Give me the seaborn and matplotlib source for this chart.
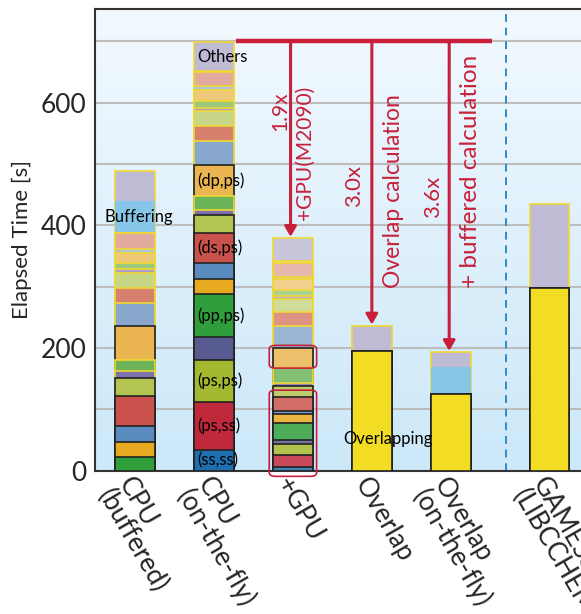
import numpy as np
import pandas as pd
import matplotlib
matplotlib.use("Agg")
import matplotlib.pyplot as plt
from matplotlib.colors import LinearSegmentedColormap, to_rgb
from matplotlib.patches import FancyBboxPatch
import seaborn as sns

sns.set_style("white")
plt.rcParams["font.family"] = ["Lato", "DejaVu Sans"]

# ---- data -------------------------------------------------------------
runs = ["CPU\n(buffered)", "CPU\n(on-the-fly)", "+GPU", "Overlap",
        "Overlap\n(on-the-fly)", "GAMESS\n(LIBCCHEM)"]

# elapsed time of each component [s], one value per run (bottom to top)
overlapping = [0, 0, 0, 195, 125, 297]
ss_ss = [0, 33, 6, 0, 0, 0]
ps_ss = [0, 79, 19, 0, 0, 0]
ps_ps = [0, 69, 19, 0, 0, 0]
pp_ss = [0, 37, 6, 0, 0, 0]
pp_ps = [22, 70, 28, 0, 0, 0]
pp_pp = [25, 24, 14, 0, 0, 0]
ds_ss = [25, 26, 5, 0, 0, 0]
ds_ps = [49, 49, 23, 0, 0, 0]
ds_pp = [30, 29, 17, 0, 0, 0]
ds_ds = [11, 9, 5, 0, 0, 0]
dp_ss = [19, 22, 25, 0, 0, 0]
dp_ps = [54, 51, 32, 0, 0, 0]
dp_pp = [38, 39, 36, 0, 0, 0]
dp_ds = [24, 24, 23, 0, 0, 0]
dp_dp = [25, 25, 22, 0, 0, 0]
dd_ss = [6, 5, 4, 0, 0, 0]
dd_ps = [11, 12, 10, 0, 0, 0]
dd_pp = [16, 18, 18, 0, 0, 0]
dd_ds = [7, 6, 4, 0, 0, 0]
dd_dd = [25, 22, 22, 0, 0, 0]
setup = [0, 3, 4, 0, 0, 0]
buffering = [52, 0, 0, 0, 44, 0]
others = [49, 46, 37, 41, 24, 138]

speedups = ["1.9x", "3.0x", "3.6x"]

# ---- styling ----------------------------------------------------------
BLACK_EDGE = "#222222"
YELLOW_EDGE = "#f0d832"
RED = "#c8203a"

# (values, face colour, edge colour, label drawn inside the bar)
components = [
    (overlapping, "#f2dc24", BLACK_EDGE, None),
    (ss_ss, "#1f6fb0", BLACK_EDGE, "(ss,ss)"),
    (ps_ss, "#c0283c", BLACK_EDGE, "(ps,ss)"),
    (ps_ps, "#a3b92f", BLACK_EDGE, "(ps,ps)"),
    (pp_ss, "#585a92", BLACK_EDGE, None),
    (pp_ps, "#2f9e3b", BLACK_EDGE, "(pp,ps)"),
    (pp_pp, "#e6a91f", BLACK_EDGE, None),
    (ds_ss, "#5a8bbf", BLACK_EDGE, None),
    (ds_ps, "#c9524c", BLACK_EDGE, "(ds,ps)"),
    (ds_pp, "#b3c452", BLACK_EDGE, None),
    (ds_ds, "#7d72ad", YELLOW_EDGE, None),
    (dp_ss, "#6bb45a", YELLOW_EDGE, None),
    (dp_ps, "#ebb552", BLACK_EDGE, "(dp,ps)"),
    (dp_pp, "#88a7cc", YELLOW_EDGE, None),
    (dp_ds, "#d7806e", YELLOW_EDGE, None),
    (dp_dp, "#c8d688", YELLOW_EDGE, None),
    (dd_ss, "#a99fc8", YELLOW_EDGE, None),
    (dd_ps, "#9ac97e", YELLOW_EDGE, None),
    (dd_pp, "#efc87a", YELLOW_EDGE, None),
    (dd_ds, "#aec4dd", YELLOW_EDGE, None),
    (dd_dd, "#e3aba0", YELLOW_EDGE, None),
    (setup, "#f3e3a5", YELLOW_EDGE, None),
    (buffering, "#87c6e8", "none", "Buffering"),
    (others, "#bfbbd4", YELLOW_EDGE, "Others"),
]

slot = np.array([0, 1, 2, 3, 4, 5.25])   # GAMESS is set apart
gpu_slot = 2

fig = plt.figure(figsize=(5.81, 6.14), dpi=100)
ax = fig.add_axes([0.1635, 0.2337, 0.8365, 0.7511])
XLIM = (-0.508, 5.65)
YLIM = (0, 752)

# background gradient
grad = np.linspace(0, 1, 256).reshape(-1, 1)
cmap = LinearSegmentedColormap.from_list("bg", ["#cce8f9", "#f2f9fe"])
ax.imshow(grad, extent=[XLIM[0], XLIM[1], YLIM[0], YLIM[1]], origin="lower",
          aspect="auto", cmap=cmap, zorder=0)

# cumulative tops for the stacked bars
heights = np.array([c[0] for c in components], dtype=float)
tops = np.cumsum(heights, axis=0)
bottoms = tops - heights

# draw from the top component down, each bar overlaying the ones above it
for (vals, face, edge, _), top in zip(components[::-1], tops[::-1]):
    n0 = len(ax.patches)
    df = pd.DataFrame({"slot": slot, "time": top})
    sns.barplot(data=df, x="slot", y="time", native_scale=True, color=face,
                saturation=1, edgecolor=edge, linewidth=1.2, width=0.5,
                errorbar=None, ax=ax, zorder=3)
    for p in ax.patches[n0:]:
        if abs(p.get_x() + p.get_width() / 2 - gpu_slot) < 0.1:
            c = np.array(to_rgb(face))
            p.set_facecolor(c + (1 - c) * 0.15)

for p in list(ax.patches):
    if p.get_height() <= 0:
        p.remove()

# segment labels
for k, (vals, face, edge, label) in enumerate(components):
    if label is None:
        continue
    if label == "Buffering":
        i = 0
        ax.text(slot[i] + 0.05, (bottoms[k, i] + tops[k, i]) / 2, label,
                ha="center", va="center", fontsize=12, color="black", zorder=5)
    else:
        i = 1
        ax.text(slot[i] - 0.21, (bottoms[k, i] + tops[k, i]) / 2, label,
                ha="left", va="center", fontsize=12, color="black", zorder=5)
ax.text(2.64, 51, "Overlapping", ha="left", va="center", fontsize=12,
        color="black", zorder=5)

# highlight boxes on the +GPU bar
for y0, y1 in [(161, 210), (-15.5, 137)]:
    box = FancyBboxPatch((gpu_slot - 0.30, y0 + 6), 0.60, y1 - y0 - 12,
                         boxstyle="round,pad=0,rounding_size=0.08",
                         mutation_aspect=75, facecolor="none", edgecolor=RED,
                         linewidth=1.2, zorder=6, clip_on=False)
    ax.add_patch(box)

# speed-up arrows
totals = tops[-1]
ax.plot([1.28, 4.52], [700, 700], color=RED, lw=3.2, solid_capstyle="butt",
        zorder=7)
for xa, i in [(1.97, 2), (3.0, 3), (3.98, 4)]:
    ax.annotate("", xy=(xa, totals[i] + 2), xytext=(xa, 701),
                arrowprops=dict(arrowstyle="-|>,head_length=0.6,head_width=0.35",
                                color=RED, lw=2.2, shrinkA=0, shrinkB=0),
                zorder=7)

notes = [
    (1.84, 554, speedups[0], 15),
    (2.15, 409, "+GPU(M2090)", 15),
    (2.77, 430, speedups[1], 16),
    (3.27, 298, "Overlap calculation", 16.5),
    (3.77, 412, speedups[2], 16),
    (4.25, 298, "+ buffered calculation", 17.5),
]
for xt, yt, txt, fs in notes:
    ax.text(xt, yt, txt, rotation=90, ha="center", va="bottom",
            color=RED, fontsize=fs, zorder=7)

# separator between this work and GAMESS
ax.axvline(4.70, color="#2e8bc8", lw=1.4, ls=(0, (4, 3)), zorder=2)

# axes
ax.set_xlim(*XLIM)
ax.set_ylim(*YLIM)
ax.set_yticks([0, 200, 400, 600])
ax.set_yticks([100, 300, 500, 700], minor=True)
ax.yaxis.grid(True, which="both", color="#bdbdbd", lw=1.5)
ax.set_axisbelow(True)
ax.tick_params(axis="both", which="both", length=0, labelsize=19, pad=6)
ax.set_xticks(slot)
ax.set_xticklabels(runs, rotation=-60, ha="left", va="top",
                   rotation_mode="anchor", fontsize=19, linespacing=0.9)
ax.tick_params(axis="x", pad=2)
ax.set_xlabel("")
ax.set_ylabel("Elapsed Time [s]", fontsize=16, labelpad=6)
for side in ["left", "top", "bottom"]:
    ax.spines[side].set_color("#333333")
    ax.spines[side].set_linewidth(1.5)
ax.spines["right"].set_visible(False)

fig.savefig("out.png", dpi=100)
